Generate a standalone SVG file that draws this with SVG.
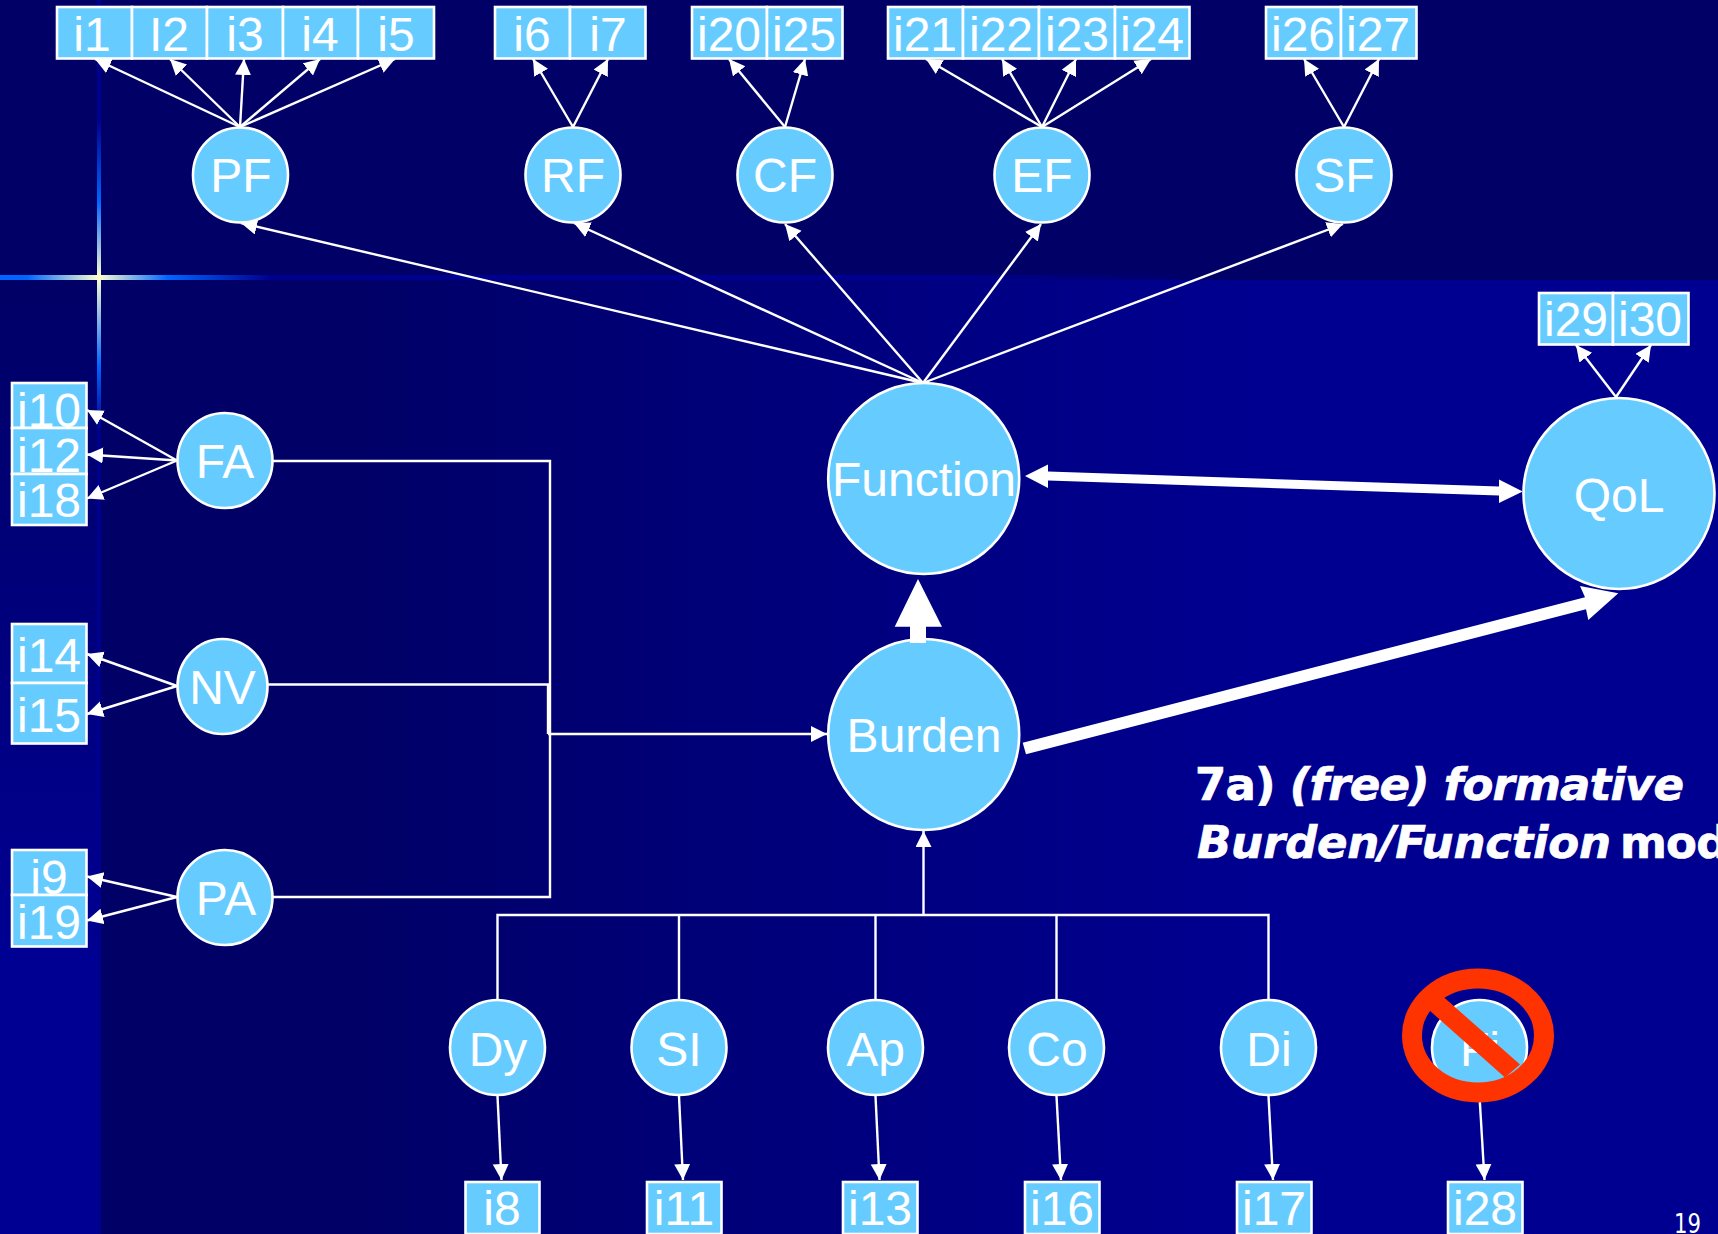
<svg xmlns="http://www.w3.org/2000/svg" width="1718" height="1234" viewBox="0 0 1718 1234">
<defs>
<linearGradient id="gMain" gradientUnits="userSpaceOnUse" x1="100" y1="0" x2="1250" y2="0"><stop offset="0.2" stop-color="#000066"/><stop offset="1" stop-color="#000090"/></linearGradient>
<linearGradient id="gLeft" gradientUnits="userSpaceOnUse" x1="0" y1="280" x2="0" y2="960"><stop offset="0" stop-color="#000066"/><stop offset="1" stop-color="#000092"/></linearGradient>
<linearGradient id="gV" gradientUnits="userSpaceOnUse" x1="0" y1="0" x2="0" y2="430"><stop offset="0" stop-color="#000090"/><stop offset="0.28" stop-color="#000090"/><stop offset="0.47" stop-color="#0066FF"/><stop offset="0.645" stop-color="#FFFFCC"/><stop offset="0.85" stop-color="#0066FF"/><stop offset="1" stop-color="#000090"/></linearGradient>
<linearGradient id="gH" gradientUnits="userSpaceOnUse" x1="0" y1="0" x2="270" y2="0"><stop offset="0" stop-color="#0066FF"/><stop offset="0.1" stop-color="#0066FF"/><stop offset="0.365" stop-color="#FFFFCC"/><stop offset="0.62" stop-color="#0066FF"/><stop offset="1" stop-color="#000090"/></linearGradient>
<linearGradient id="gBand" gradientUnits="userSpaceOnUse" x1="270" y1="0" x2="1220" y2="0"><stop offset="0.7" stop-color="#000090"/><stop offset="1" stop-color="#000066"/></linearGradient>
<marker id="arr" markerUnits="userSpaceOnUse" markerWidth="17" markerHeight="17" refX="16" refY="8" orient="auto"><path d="M0,0 L16,8 L0,16 Z" fill="#FFFFFF"/></marker>
</defs>
<style>
.c{fill:#66CCFF;stroke:#FFFFFF;stroke-width:2.6}
.b{fill:#66CCFF;stroke:#FFFFFF;stroke-width:2.6}
.t{font-family:"Liberation Sans",Arial,sans-serif;font-size:48px;fill:#FFFFFF;text-anchor:middle}
.l{fill:none;stroke:#FFFFFF;stroke-width:2.4}
.a{fill:none;stroke:#FFFFFF;stroke-width:2.4;marker-end:url(#arr)}
.f{fill:#FFFFFF}
.h{font-family:"DejaVu Sans",Verdana,sans-serif;font-size:45px;font-weight:bold;fill:#FFFFFF;stroke:#FFFFFF;stroke-width:0.7;letter-spacing:-0.8px}
</style>
<g id="background">
<rect x="0" y="0" width="1718" height="1234" fill="#000066"/>
<rect x="100" y="280" width="1618" height="954" fill="url(#gMain)"/>
<rect x="0" y="280" width="100" height="954" fill="url(#gLeft)"/>
<rect x="270" y="275" width="950" height="5" fill="url(#gBand)"/>
<rect x="97" y="0" width="4" height="1234" fill="#000090"/>
<rect x="97" y="0" width="4" height="430" fill="url(#gV)"/>
<rect x="0" y="275" width="270" height="5" fill="url(#gH)"/>
</g>
<g id="connectors">
<path class="a" d="M240,127 L95,59"/><path class="a" d="M240,127 L170,59"/><path class="a" d="M240,127 L244,59"/><path class="a" d="M240,127 L320,59"/><path class="a" d="M240,127 L395,59"/>
<path class="a" d="M573,127 L533,59"/><path class="a" d="M573,127 L608,59"/>
<path class="a" d="M785,127 L729,59"/><path class="a" d="M785,127 L805,59"/>
<path class="a" d="M1042,127 L926,59"/><path class="a" d="M1042,127 L1002,59"/><path class="a" d="M1042,127 L1076,59"/><path class="a" d="M1042,127 L1151,59"/>
<path class="a" d="M1344,127 L1304,59"/><path class="a" d="M1344,127 L1379,59"/>
<path class="a" d="M923,383 L241,223"/><path class="a" d="M923,383 L574,223"/><path class="a" d="M923,383 L785,224"/><path class="a" d="M923,383 L1041,224"/><path class="a" d="M923,383 L1343,224"/>
<path class="a" d="M1616,397 L1576,345"/><path class="a" d="M1616,397 L1651,345"/>
<path class="a" d="M177,460.5 L87,410"/><path class="a" d="M177,460.5 L87,454.5"/><path class="a" d="M177,460.5 L87,498.5"/>
<path class="a" d="M177,686 L87,654"/><path class="a" d="M177,686 L87,714"/>
<path class="a" d="M177,897 L87,876.5"/><path class="a" d="M177,897 L87,920.5"/>
<path class="l" d="M273,461 H550 V897 H273"/>
<path class="l" d="M268,684.5 H548 V734"/>
<path class="a" d="M548,734 H827"/>
<path class="l" d="M497.5,999 V915 H1268.5 V999"/>
<path class="l" d="M679,915 V999"/><path class="l" d="M875.5,915 V999"/><path class="l" d="M1056.5,915 V999"/>
<path class="a" d="M923.5,915 V831"/>
<path class="a" d="M497.5,1096 L501.5,1180"/><path class="a" d="M679,1096 L683,1180"/><path class="a" d="M875.5,1096 L879.5,1180"/><path class="a" d="M1056.5,1096 L1061,1180"/><path class="a" d="M1268.5,1096 L1273,1180"/><path class="a" d="M1479.5,1096 L1484.5,1180"/>
</g>
<g id="node-i1-i5">
<rect class="b" x="57" y="7" width="75" height="51.5"/><rect class="b" x="132" y="7" width="75" height="51.5"/><rect class="b" x="207" y="7" width="76" height="51.5"/><rect class="b" x="283" y="7" width="75" height="51.5"/><rect class="b" x="358" y="7" width="76" height="51.5"/>
<text class="t" x="92" y="51">i1</text><text class="t" x="169" y="51">I2</text><text class="t" x="245" y="51">i3</text><text class="t" x="320" y="51">i4</text><text class="t" x="396" y="51">i5</text>
</g>
<g id="node-i6-i7">
<rect class="b" x="495" y="7" width="75" height="51.5"/><rect class="b" x="570" y="7" width="75.5" height="51.5"/>
<text class="t" x="532" y="51">i6</text><text class="t" x="608" y="51">i7</text>
</g>
<g id="node-i20-i25">
<rect class="b" x="692" y="7" width="75" height="51.5"/><rect class="b" x="767" y="7" width="75.5" height="51.5"/>
<text class="t" x="729" y="51">i20</text><text class="t" x="804" y="51">i25</text>
</g>
<g id="node-i21-i24">
<rect class="b" x="888" y="7" width="75" height="51.5"/><rect class="b" x="963" y="7" width="76" height="51.5"/><rect class="b" x="1039" y="7" width="76" height="51.5"/><rect class="b" x="1115" y="7" width="74.5" height="51.5"/>
<text class="t" x="925" y="51">i21</text><text class="t" x="1001" y="51">i22</text><text class="t" x="1077" y="51">i23</text><text class="t" x="1152" y="51">i24</text>
</g>
<g id="node-i26-i27">
<rect class="b" x="1266" y="7" width="75" height="51.5"/><rect class="b" x="1341" y="7" width="75.5" height="51.5"/>
<text class="t" x="1303" y="51">i26</text><text class="t" x="1378" y="51">i27</text>
</g>
<g id="node-i29-i30">
<rect class="b" x="1539" y="293" width="74" height="51.5"/><rect class="b" x="1613" y="293" width="75.5" height="51.5"/>
<text class="t" x="1576" y="336">i29</text><text class="t" x="1650" y="336">i30</text>
</g>
<g id="node-PF"><circle class="c" cx="240.5" cy="175" r="47.5"/><text class="t" x="241" y="192">PF</text></g>
<g id="node-RF"><circle class="c" cx="573" cy="175" r="47.5"/><text class="t" x="573" y="192">RF</text></g>
<g id="node-CF"><circle class="c" cx="785" cy="175" r="47.5"/><text class="t" x="785" y="192">CF</text></g>
<g id="node-EF"><circle class="c" cx="1042" cy="175" r="47.5"/><text class="t" x="1042" y="192">EF</text></g>
<g id="node-SF"><circle class="c" cx="1344" cy="175" r="47.5"/><text class="t" x="1344" y="192">SF</text></g>
<g id="node-Function"><circle class="c" cx="923.7" cy="478.5" r="95.5"/><text class="t" x="924" y="496">Function</text></g>
<g id="node-Burden"><circle class="c" cx="923.7" cy="734.5" r="95.5"/><text class="t" x="924" y="752">Burden</text></g>
<g id="node-QoL"><circle class="c" cx="1619" cy="493.5" r="95.5"/><text class="t" x="1619" y="512">QoL</text></g>
<g id="node-i10-i18">
<rect class="b" x="12" y="383" width="74.5" height="45"/><text class="t" x="49" y="427">i10</text>
<rect class="b" x="12" y="428" width="74.5" height="46"/><text class="t" x="49" y="472">i12</text>
<rect class="b" x="12" y="474" width="74.5" height="51"/><text class="t" x="49" y="517">i18</text>
</g>
<g id="node-i14-i15">
<rect class="b" x="12" y="624" width="74.5" height="59"/><text class="t" x="49" y="672">i14</text>
<rect class="b" x="12" y="683" width="74.5" height="60.5"/><text class="t" x="49" y="732">i15</text>
</g>
<g id="node-i9-i19">
<rect class="b" x="12" y="850" width="74.5" height="45"/><text class="t" x="49" y="894">i9</text>
<rect class="b" x="12" y="895" width="74.5" height="51.5"/><text class="t" x="49" y="939">i19</text>
</g>
<g id="node-FA"><circle class="c" cx="225" cy="460.5" r="47.5"/><text class="t" x="225" y="478">FA</text></g>
<g id="node-NV"><ellipse class="c" cx="222.5" cy="686.5" rx="45" ry="47.5"/><text class="t" x="222.5" y="704">NV</text></g>
<g id="node-PA"><circle class="c" cx="225" cy="897.5" r="47.5"/><text class="t" x="226" y="915">PA</text></g>
<g id="node-Dy"><circle class="c" cx="497.5" cy="1047.5" r="47.5"/><text class="t" x="498" y="1066">Dy</text></g>
<g id="node-SI"><circle class="c" cx="679" cy="1047.5" r="47.5"/><text class="t" x="679" y="1066">SI</text></g>
<g id="node-Ap"><circle class="c" cx="875.5" cy="1047.5" r="47.5"/><text class="t" x="875.5" y="1066">Ap</text></g>
<g id="node-Co"><circle class="c" cx="1056.5" cy="1047.5" r="47.5"/><text class="t" x="1057" y="1066">Co</text></g>
<g id="node-Di"><circle class="c" cx="1268.5" cy="1047.5" r="47.5"/><text class="t" x="1269" y="1066">Di</text></g>
<g id="node-Fi"><circle class="c" cx="1479.5" cy="1047.5" r="47.5"/><text class="t" x="1480" y="1066">Fi</text></g>
<g id="node-i8"><rect class="b" x="465.5" y="1182" width="74" height="52"/><text class="t" x="502" y="1225">i8</text></g>
<g id="node-i11"><rect class="b" x="647" y="1182" width="74.5" height="52"/><text class="t" x="684" y="1225">i11</text></g>
<g id="node-i13"><rect class="b" x="843" y="1182" width="74.5" height="52"/><text class="t" x="880" y="1225">i13</text></g>
<g id="node-i16"><rect class="b" x="1025" y="1182" width="74.5" height="52"/><text class="t" x="1062" y="1225">i16</text></g>
<g id="node-i17"><rect class="b" x="1237" y="1182" width="74.5" height="52"/><text class="t" x="1274" y="1225">i17</text></g>
<g id="node-i28"><rect class="b" x="1448" y="1182" width="74.5" height="52"/><text class="t" x="1485" y="1225">i28</text></g>
<g id="thick-arrows">
<polygon class="f" points="1025,476 1048,464.5 1048,471.5 1499,486.5 1499,479.5 1522.7,491.5 1499,503 1499,495.5 1048,480.5 1048,488"/>
<polygon class="f" points="918,579 942,626.7 926,626.7 926,643 910,643 910,626.7 894.7,626.7"/>
<polygon class="f" points="1022.7,742.7 1585,597.3 1580,586 1618.3,593.3 1588.3,620 1586,609.3 1026,754.3"/>
</g>
<g id="no-symbol">
<ellipse cx="1478" cy="1035.5" rx="66" ry="57" fill="none" stroke="#FF3300" stroke-width="20"/>
<polygon points="1429,1010 1443,996.5 1520,1064.5 1505,1077.5" fill="#FF3300"/>
</g>
<text class="h" y="800" x="1195">7a) <tspan font-style="italic">(free) formative</tspan></text>
<text class="h" y="858" x="1197"><tspan font-style="italic" letter-spacing="-0.2">Burden/Function</tspan> <tspan x="1620">mod</tspan></text>
<text x="1674" y="1233" style="font-family:'DejaVu Sans Condensed','DejaVu Sans',sans-serif;font-size:26px;fill:#FFFFFF" textLength="27" lengthAdjust="spacingAndGlyphs">19</text>
</svg>
